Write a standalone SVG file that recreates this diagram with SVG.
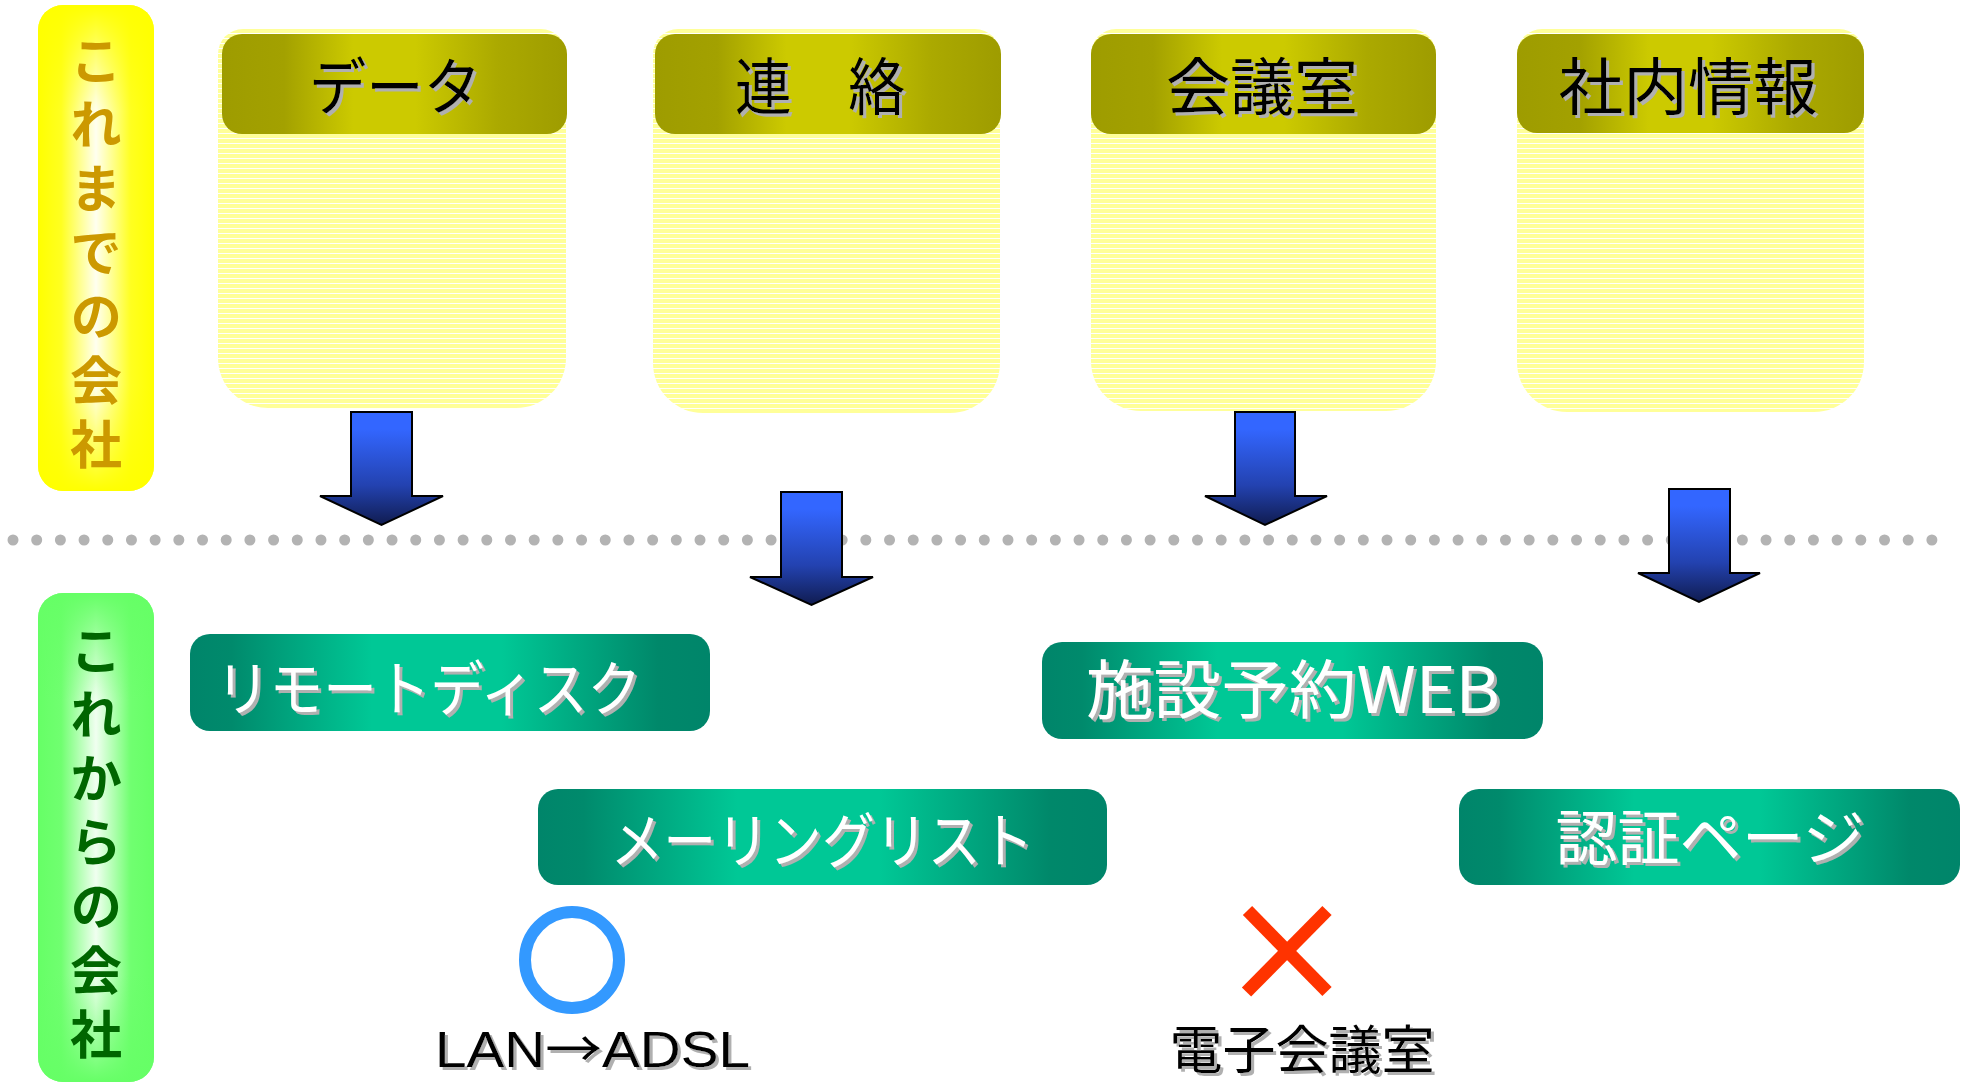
<svg xmlns="http://www.w3.org/2000/svg" width="1975" height="1084" viewBox="0 0 1975 1084">
<defs>
<style>
.jp{font-family:"Noto Sans CJK JP","Noto Sans CJK SC",sans-serif}
.side{font-size:52px;font-weight:bold;writing-mode:vertical-rl;letter-spacing:12px}
.hdr{font-size:62px;fill:#000;text-anchor:middle}
.gtx{font-size:60px;fill:#fff}
.lbl{font-size:52px;fill:#000}
.arrow{fill:url(#gArrow);stroke:#000;stroke-width:2;stroke-linejoin:miter}
.body{fill:url(#pStripe)}
.head{fill:url(#gHead)}
.gbox{fill:url(#gGreen)}
.xmark{stroke:#FF3300;stroke-width:13;stroke-linecap:butt}
</style>
<linearGradient id="gHead" x1="0" y1="0" x2="1" y2="0">
<stop offset="0" stop-color="#9E9C00"/>
<stop offset="0.18" stop-color="#A3A100"/>
<stop offset="0.38" stop-color="#CCCA00"/>
<stop offset="0.56" stop-color="#CCCA00"/>
<stop offset="0.8" stop-color="#ABA900"/>
<stop offset="1" stop-color="#9E9C00"/>
</linearGradient>
<linearGradient id="gGreen" x1="0" y1="0" x2="1" y2="0">
<stop offset="0" stop-color="#00856A"/>
<stop offset="0.08" stop-color="#008A6C"/>
<stop offset="0.35" stop-color="#00C896"/>
<stop offset="0.6" stop-color="#00C896"/>
<stop offset="0.9" stop-color="#00886A"/>
<stop offset="1" stop-color="#00856A"/>
</linearGradient>
<linearGradient id="gArrow" x1="0" y1="0" x2="0" y2="1">
<stop offset="0" stop-color="#3366FF"/>
<stop offset="0.15" stop-color="#3366FF"/>
<stop offset="0.65" stop-color="#2342B0"/>
<stop offset="1" stop-color="#101C50"/>
</linearGradient>
<linearGradient id="gYelH" x1="0" y1="0" x2="1" y2="0">
<stop offset="0" stop-color="#FFFF00"/>
<stop offset="0.2" stop-color="#FFFF20"/>
<stop offset="0.5" stop-color="#FFFFF0"/>
<stop offset="0.8" stop-color="#FFFF20"/>
<stop offset="1" stop-color="#FFFF00"/>
</linearGradient>
<linearGradient id="gYelV" x1="0" y1="0" x2="0" y2="1">
<stop offset="0" stop-color="#FFFF00" stop-opacity="1"/>
<stop offset="0.22" stop-color="#FFFF00" stop-opacity="0"/>
<stop offset="0.78" stop-color="#FFFF00" stop-opacity="0"/>
<stop offset="1" stop-color="#FFFF00" stop-opacity="1"/>
</linearGradient>
<linearGradient id="gGrnH" x1="0" y1="0" x2="1" y2="0">
<stop offset="0" stop-color="#66FF66"/>
<stop offset="0.2" stop-color="#70FF70"/>
<stop offset="0.5" stop-color="#F0FFF0"/>
<stop offset="0.8" stop-color="#70FF70"/>
<stop offset="1" stop-color="#66FF66"/>
</linearGradient>
<linearGradient id="gGrnV" x1="0" y1="0" x2="0" y2="1">
<stop offset="0" stop-color="#66FF66" stop-opacity="1"/>
<stop offset="0.22" stop-color="#66FF66" stop-opacity="0"/>
<stop offset="0.78" stop-color="#66FF66" stop-opacity="0"/>
<stop offset="1" stop-color="#66FF66" stop-opacity="1"/>
</linearGradient>
<pattern id="pStripe" patternUnits="userSpaceOnUse" width="10" height="5">
<rect width="10" height="5" fill="#FFFF99"/>
<rect y="3" width="10" height="1" fill="#FFFFFF"/>
</pattern>
<filter id="sh" x="-5%" y="-10%" width="115%" height="130%">
<feOffset in="SourceAlpha" dx="3" dy="3" result="o"/>
<feFlood flood-color="#B0B0B0"/>
<feComposite in2="o" operator="in" result="s"/>
<feMerge><feMergeNode in="s"/><feMergeNode in="SourceGraphic"/></feMerge>
</filter>
</defs>
<rect width="1975" height="1084" fill="#FFFFFF"/>

<g id="side-before">
<rect x="38" y="5" width="116" height="486" rx="25" fill="url(#gYelH)"/>
<rect x="38" y="5" width="116" height="486" rx="25" fill="url(#gYelV)"/>
<text class="jp side" x="96" y="34" fill="#CC9900">これまでの会社</text>
</g>

<g id="side-after">
<rect x="38" y="593" width="116" height="489" rx="25" fill="url(#gGrnH)"/>
<rect x="38" y="593" width="116" height="489" rx="25" fill="url(#gGrnV)"/>
<text class="jp side" x="96" y="624" fill="#006600">これからの会社</text>
</g>

<g id="box-data">
<path class="body" d="M243,29 H541 A25,25 0 0 1 566,54 V358 A50,50 0 0 1 516,408 H268 A50,50 0 0 1 218,358 V54 A25,25 0 0 1 243,29 Z"/>
<rect class="head" x="222" y="34" width="345" height="100" rx="20"/>
<text class="jp hdr" x="395" y="110" textLength="172" lengthAdjust="spacingAndGlyphs" filter="url(#sh)">データ</text>
</g>

<g id="box-renraku">
<path class="body" d="M678,29 H975 A25,25 0 0 1 1000,54 V363 A50,50 0 0 1 950,413 H703 A50,50 0 0 1 653,363 V54 A25,25 0 0 1 678,29 Z"/>
<rect class="head" x="655" y="34" width="346" height="100" rx="20"/>
<text class="jp hdr" x="820" y="110" textLength="170" lengthAdjust="spacingAndGlyphs" filter="url(#sh)">連　絡</text>
</g>

<g id="box-kaigishitsu">
<path class="body" d="M1116,29 H1411 A25,25 0 0 1 1436,54 V361 A50,50 0 0 1 1386,411 H1141 A50,50 0 0 1 1091,361 V54 A25,25 0 0 1 1116,29 Z"/>
<rect class="head" x="1091" y="34" width="345" height="100" rx="20"/>
<text class="jp hdr" x="1262" y="110" textLength="192" lengthAdjust="spacingAndGlyphs" filter="url(#sh)">会議室</text>
</g>

<g id="box-shanai">
<path class="body" d="M1542,29 H1839 A25,25 0 0 1 1864,54 V362 A50,50 0 0 1 1814,412 H1567 A50,50 0 0 1 1517,362 V54 A25,25 0 0 1 1542,29 Z"/>
<rect class="head" x="1517" y="34" width="347" height="99" rx="20"/>
<text class="jp hdr" x="1688" y="110" textLength="259" lengthAdjust="spacingAndGlyphs" filter="url(#sh)">社内情報</text>
</g>

<g id="divider">
<line x1="13" y1="540" x2="1932" y2="540" stroke="#B3B3B3" stroke-width="11" stroke-linecap="round" stroke-dasharray="0 23.69"/>
</g>

<g id="connectors">
<path class="arrow" d="M351,412 H412 V496 H443 L381.5,525 L320,496 H351 Z"/>
<path class="arrow" d="M781,492 H842 V577 H873 L811.5,605 L750,577 H781 Z"/>
<path class="arrow" d="M1235,412 H1295 V496 H1327 L1265,525 L1205,496 H1235 Z"/>
<path class="arrow" d="M1669,489 H1730 V573 H1760 L1699,602 L1638,573 H1669 Z"/>
</g>

<g id="node-remote-disk">
<rect class="gbox" x="190" y="634" width="520" height="97" rx="20"/>
<text class="jp gtx" x="216" y="711" textLength="425" lengthAdjust="spacingAndGlyphs" filter="url(#sh)">リモートディスク</text>
</g>

<g id="node-shisetsu">
<rect class="gbox" x="1042" y="642" width="501" height="97" rx="20"/>
<text class="jp gtx" x="1293" y="713" text-anchor="middle" textLength="414" lengthAdjust="spacingAndGlyphs" filter="url(#sh)" style="font-size:64px">施設予約WEB</text>
</g>

<g id="node-mailing">
<rect class="gbox" x="538" y="789" width="569" height="96" rx="20"/>
<text class="jp gtx" x="822" y="863" text-anchor="middle" textLength="423" lengthAdjust="spacingAndGlyphs" filter="url(#sh)">メーリングリスト</text>
</g>

<g id="node-ninsho">
<rect class="gbox" x="1459" y="789" width="501" height="96" rx="20"/>
<text class="jp gtx" x="1710" y="860" text-anchor="middle" textLength="309" lengthAdjust="spacingAndGlyphs" filter="url(#sh)">認証ページ</text>
</g>

<g id="node-lan">
<ellipse cx="572" cy="960" rx="47" ry="48" fill="none" stroke="#3399FF" stroke-width="12"/>
<text x="435" y="1067" font-family="'Liberation Sans',Arial,sans-serif" font-size="50" fill="#000" textLength="315" lengthAdjust="spacingAndGlyphs" filter="url(#sh)">LAN<tspan font-family="'Noto Sans CJK JP',sans-serif">→</tspan>ADSL</text>
</g>

<g id="node-denshi">
<line class="xmark" x1="1247.5" y1="910.5" x2="1327" y2="991.5"/>
<line class="xmark" x1="1327" y1="910.5" x2="1246.5" y2="992"/>
<text class="jp lbl" x="1302" y="1069" text-anchor="middle" textLength="265" lengthAdjust="spacingAndGlyphs" filter="url(#sh)">電子会議室</text>
</g>
</svg>
